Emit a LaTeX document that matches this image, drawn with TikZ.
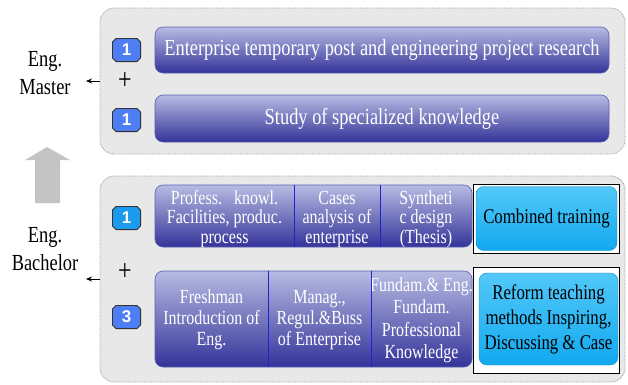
\documentclass[tikz,border=0pt]{standalone}
\usepackage{fontspec}
\setmainfont{Liberation Serif}[FakeStretch=0.8]
\newfontfamily\numfont{Liberation Sans}
\usetikzlibrary{arrows.meta}

\definecolor{panelfill}{HTML}{E8E8E8}
\definecolor{paneledge}{HTML}{9A9A9A}
\definecolor{bardark}{HTML}{333399}
\definecolor{barhi}{HTML}{B7BBE2}
\definecolor{barline}{HTML}{5A5FB5}
\definecolor{cellline}{HTML}{1E22D0}
\definecolor{badgeblue}{HTML}{4D7EF3}
\definecolor{badgecyan}{HTML}{1C9AEE}
\definecolor{cyanhi}{HTML}{52C8F8}
\definecolor{cyanmain}{HTML}{12A9F0}
\definecolor{upgray}{HTML}{C4C4C4}

\begin{document}
\begin{tikzpicture}[
    x=1pt, y=-1pt,
    every node/.style={inner sep=0pt},
    panel/.style={draw=paneledge, densely dotted, line width=0.8pt, fill=panelfill, rounded corners=14pt},
    bar/.style={draw=barline, line width=0.6pt, rounded corners=8pt,
      top color=barhi, middle color=bardark, bottom color=bardark},
    bartext/.style={text=white, font=\fontsize{23}{25}\selectfont},
    cell/.style={text=white, align=center, font=\fontsize{20}{19.5}\selectfont},
    divider/.style={draw=cellline, line width=0.8pt},
    % 角を落とした番号札
    badge/.style={minimum width=29pt, minimum height=24pt,
      text=white, font=\numfont\bfseries\fontsize{17}{17}\selectfont,
      path picture={
        \draw[fill=#1, draw=gray!40!black, line width=0.9pt]
          ([xshift=4pt,yshift=-0.45pt]path picture bounding box.north west)
          -- ([xshift=-4pt,yshift=-0.45pt]path picture bounding box.north east)
          -- ([xshift=-0.45pt,yshift=-4pt]path picture bounding box.north east)
          -- ([xshift=-0.45pt,yshift=4pt]path picture bounding box.south east)
          -- ([xshift=-4pt,yshift=0.45pt]path picture bounding box.south east)
          -- ([xshift=4pt,yshift=0.45pt]path picture bounding box.south west)
          -- ([xshift=0.45pt,yshift=4pt]path picture bounding box.south west)
          -- ([xshift=0.45pt,yshift=-4pt]path picture bounding box.north west)
          -- cycle;
      }},
    frame/.style={draw=black, line width=0.9pt, fill=white},
    cyanbox/.style={rounded corners=8pt, draw=cyanmain!80!black, line width=0.4pt,
      top color=cyanhi, bottom color=cyanmain, align=center, font=\fontsize{21}{25}\selectfont},
    degree/.style={align=center, font=\fontsize{23}{28}\selectfont},
    plus/.style={font=\fontsize{30}{30}\selectfont},
    tiparr/.style={-{Stealth[length=6pt,width=5pt]}, line width=0.8pt}
  ]
  \useasboundingbox (0,0) rectangle (628,384);

  % 上下の枠
  \node[panel, minimum width=525pt, minimum height=146pt] (upper) at (362.5,81) {};
  \node[panel, minimum width=525pt, minimum height=206pt] (lower) at (362.5,279) {};

  % 学位
  \node[degree] (master) at (45,73) {Eng.\\Master};
  \node[degree] (bachelor) at (45,249) {Eng.\\Bachelor};
  \coordinate (mtip) at (86,81);
  \coordinate (btip) at (86,279);
  \draw[tiparr] (upper.west) -- (mtip);
  \draw[tiparr] (lower.west) -- (btip);

  % 上向きの太い矢印
  \fill[upgray] (47,147) -- (70,160) -- (60,160) -- (60,203) -- (35,203) -- (35,160) -- (25,160) -- cycle;

  % 番号と +
  \node[badge=badgeblue] (nA) at (126.5,50) {1};
  \node[badge=badgeblue] (nB) at (126.5,120) {1};
  \node[badge=badgecyan] (nC) at (126.5,218) {1};
  \node[badge=badgeblue] (nD) at (126.5,317) {3};
  \node[plus] (plusU) at (125,81) {+};
  \node[plus] (plusL) at (125,272) {+};

  % 上段のバー
  \node[bar, minimum width=454pt, minimum height=46pt] (barU1) at (382,50) {};
  \node[bartext] (txtU1) at (barU1.center) {Enterprise temporary post and engineering project research};
  \node[bar, minimum width=454pt, minimum height=47pt] (barU2) at (382,118.5) {};
  \node[bartext] (txtU2) at (barU2.center) {Study of specialized knowledge};

  % 下段のバー（1）
  \node[bar, minimum width=317pt, minimum height=62pt] (barA) at (313.5,216) {};
  \node[cell, minimum width=139pt] (cA1) at (224.5,219) {Profess.~~~knowl.\\Facilities, produc.\\process};
  \node[cell, minimum width=86pt] (cA2) at (337,219) {Cases\\analysis of\\enterprise};
  \node[cell, minimum width=92pt] (cA3) at (426,219) {Syntheti\\c design\\(Thesis)};
  \draw[divider] (cA1.east |- barA.north) -- (cA1.east |- barA.south);
  \draw[divider] (cA2.east |- barA.north) -- (cA2.east |- barA.south);

  % 下段のバー（2）
  \node[bar, minimum width=317pt, minimum height=96pt] (barB) at (313.5,319) {};
  \node[cell, minimum width=113pt, font=\fontsize{20}{21}\selectfont] (cB1) at (211.5,320) {Freshman\\Introduction of\\Eng.};
  \node[cell, minimum width=103pt, font=\fontsize{20}{21}\selectfont] (cB2) at (319.5,320) {Manag.,\\Regul.\&Buss\\of Enterprise};
  \node[cell, minimum width=101pt, font=\fontsize{20}{22.5}\selectfont] (cB3) at (421.5,320) {Fundam.\& Eng.\\Fundam.\\Professional\\Knowledge};
  \draw[divider] (cB1.east |- barB.north) -- (cB1.east |- barB.south);
  \draw[divider] (cB2.east |- barB.north) -- (cB2.east |- barB.south);

  % 右側の水色ボックス
  \node[frame, minimum width=146pt, minimum height=69pt] (fA) at (546,218.5) {};
  \node[cyanbox, minimum width=141pt, minimum height=64pt] (trainA) at (546.5,218.5) {Combined training};
  \node[frame, minimum width=146pt, minimum height=106pt] (fB) at (546,320) {};
  \node[cyanbox, minimum width=139pt, minimum height=92pt] (trainB) at (548.5,319) {Reform teaching\\methods Inspiring,\\Discussing \& Case};
\end{tikzpicture}
\end{document}
